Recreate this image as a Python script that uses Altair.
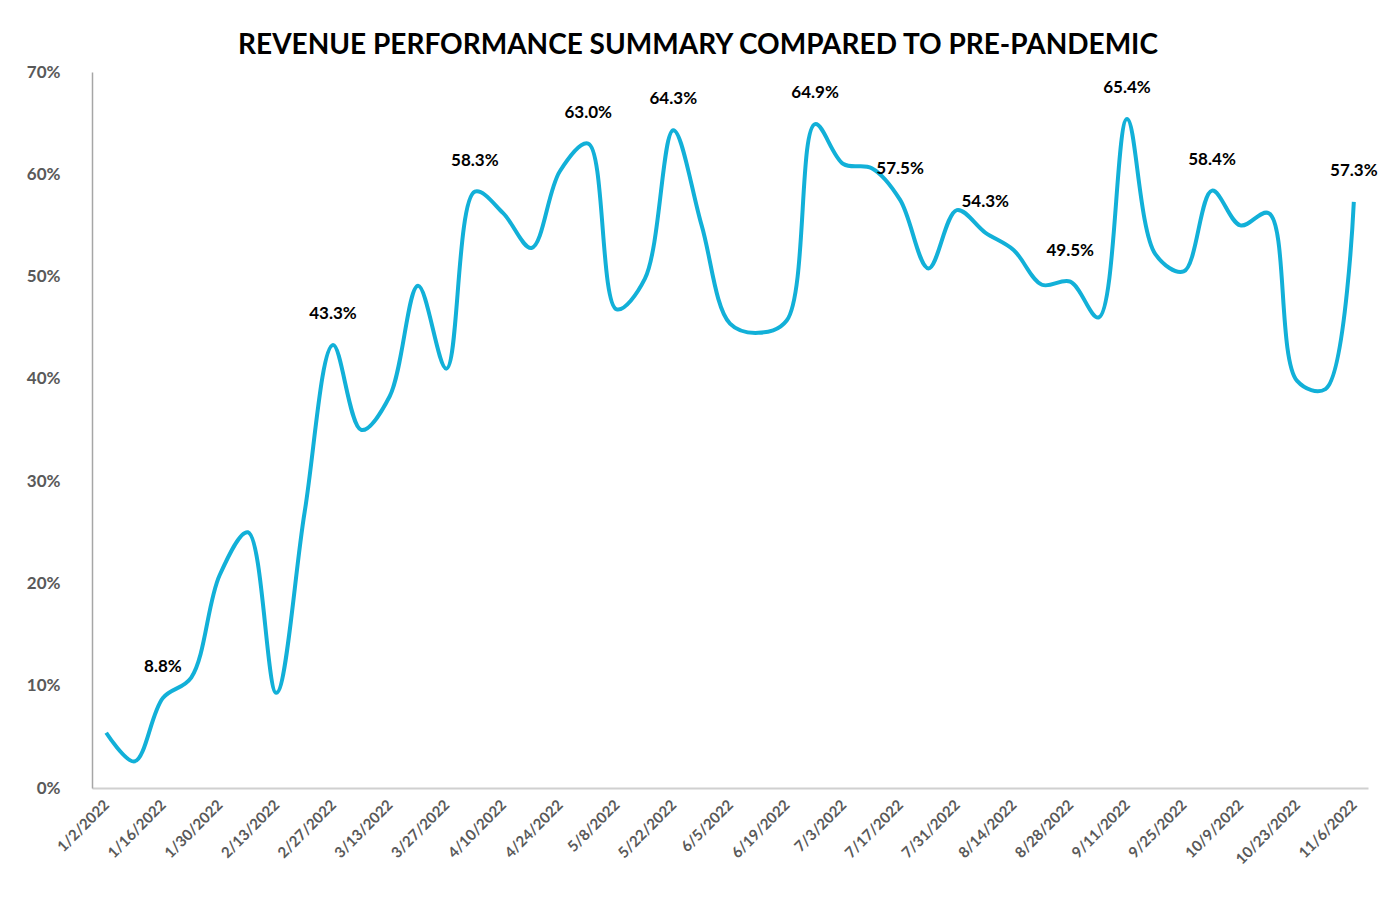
import altair as alt
import pandas as pd

weeks = [
    "1/2/2022", "1/9/2022", "1/16/2022", "1/23/2022", "1/30/2022",
    "2/6/2022", "2/13/2022", "2/20/2022", "2/27/2022",
    "3/6/2022", "3/13/2022", "3/20/2022", "3/27/2022",
    "4/3/2022", "4/10/2022", "4/17/2022", "4/24/2022",
    "5/1/2022", "5/8/2022", "5/15/2022", "5/22/2022", "5/29/2022",
    "6/5/2022", "6/12/2022", "6/19/2022", "6/26/2022",
    "7/3/2022", "7/10/2022", "7/17/2022", "7/24/2022", "7/31/2022",
    "8/7/2022", "8/14/2022", "8/21/2022", "8/28/2022",
    "9/4/2022", "9/11/2022", "9/18/2022", "9/25/2022",
    "10/2/2022", "10/9/2022", "10/16/2022", "10/23/2022", "10/30/2022",
    "11/6/2022",
]

revenue_pct = [
    5.4, 2.6, 8.8, 10.8, 20.8,
    25.0, 9.3, 27.0, 43.3,
    35.0, 38.3, 49.1, 41.0,
    58.3, 56.2, 52.8, 60.3,
    63.0, 46.8, 49.8, 64.3, 55.0,
    45.4, 44.5, 45.7, 64.9,
    61.0, 60.6, 57.5, 50.8, 56.5,
    54.3, 52.6, 49.2, 49.5,
    46.0, 65.4, 52.2, 50.5,
    58.4, 55.0, 56.2, 39.8, 39.0,
    57.3,
]

labeled_weeks = [
    "1/16/2022", "2/27/2022", "4/3/2022", "5/1/2022", "5/22/2022", "6/26/2022",
    "7/17/2022", "8/7/2022", "8/28/2022", "9/11/2022", "10/2/2022", "11/6/2022",
]

tick_weeks = [
    "1/2/2022", "1/16/2022", "1/30/2022", "2/13/2022", "2/27/2022", "3/13/2022",
    "3/27/2022", "4/10/2022", "4/24/2022", "5/8/2022", "5/22/2022", "6/5/2022",
    "6/19/2022", "7/3/2022", "7/17/2022", "7/31/2022", "8/14/2022", "8/28/2022",
    "9/11/2022", "9/25/2022", "10/9/2022", "10/23/2022", "11/6/2022",
]

y_ticks = [0, 10, 20, 30, 40, 50, 60, 70]

TITLE = "REVENUE PERFORMANCE SUMMARY COMPARED TO PRE-PANDEMIC"
LINE_COLOR = "#12B0D8"
FONT = "Lato"

df = pd.DataFrame({"week": weeks, "pct": revenue_pct})
df["label"] = df["pct"].map(lambda v: f"{v:.1f}%")
df_lab = df[df["week"].isin(labeled_weeks)]

x_enc = alt.X(
    "week:O",
    sort=weeks,
    scale=alt.Scale(type="point", padding=0.5),
    axis=alt.Axis(
        values=tick_weeks,
        labelAngle=-45,
        labelAlign="right",
        labelBaseline="middle",
        labelPadding=14,
        labelFont=FONT,
        labelFontSize=15,
        labelFontWeight="bold",
        labelColor="#595959",
        labelOverlap=False,
        ticks=False,
        domainColor="#d0d0d0",
        domainWidth=2,
        title=None,
    ),
)

y_enc = alt.Y(
    "pct:Q",
    scale=alt.Scale(domain=[0, 70], nice=False, zero=True),
    axis=alt.Axis(
        values=y_ticks,
        labelExpr="datum.value + '%'",
        grid=False,
        ticks=False,
        domainColor="#a6a6a6",
        domainWidth=1.5,
        labelPadding=32,
        labelFont=FONT,
        labelFontSize=17,
        labelFontWeight="bold",
        labelColor="#595959",
        labelOverlap=False,
        title=None,
    ),
)

line = alt.Chart(df).mark_line(
    interpolate="catmull-rom", color=LINE_COLOR, strokeWidth=4
).encode(x=x_enc, y=y_enc)

labels = alt.Chart(df_lab).mark_text(
    dy=-31, font=FONT, fontSize=17, fontWeight="bold", color="black"
).encode(x=alt.X("week:O", sort=weeks), y="pct:Q", text="label:N")

chart = (
    alt.layer(line, labels)
    .properties(
        width=1276,
        height=716,
        autosize=alt.AutoSizeParams(type="none"),
        padding={"left": 92, "top": 72, "right": 32, "bottom": 112},
        title=alt.TitleParams(
            TITLE,
            font=FONT,
            fontSize=28,
            fontWeight="bold",
            color="black",
            anchor="middle",
            frame="group",
            baseline="alphabetic",
            offset=19,
            dx=-32,
            dy=38,
        ),
        background="white",
    )
    .configure_view(stroke=None)
)

chart.save("out.html", embed_options={"renderer": "svg", "actions": False})
